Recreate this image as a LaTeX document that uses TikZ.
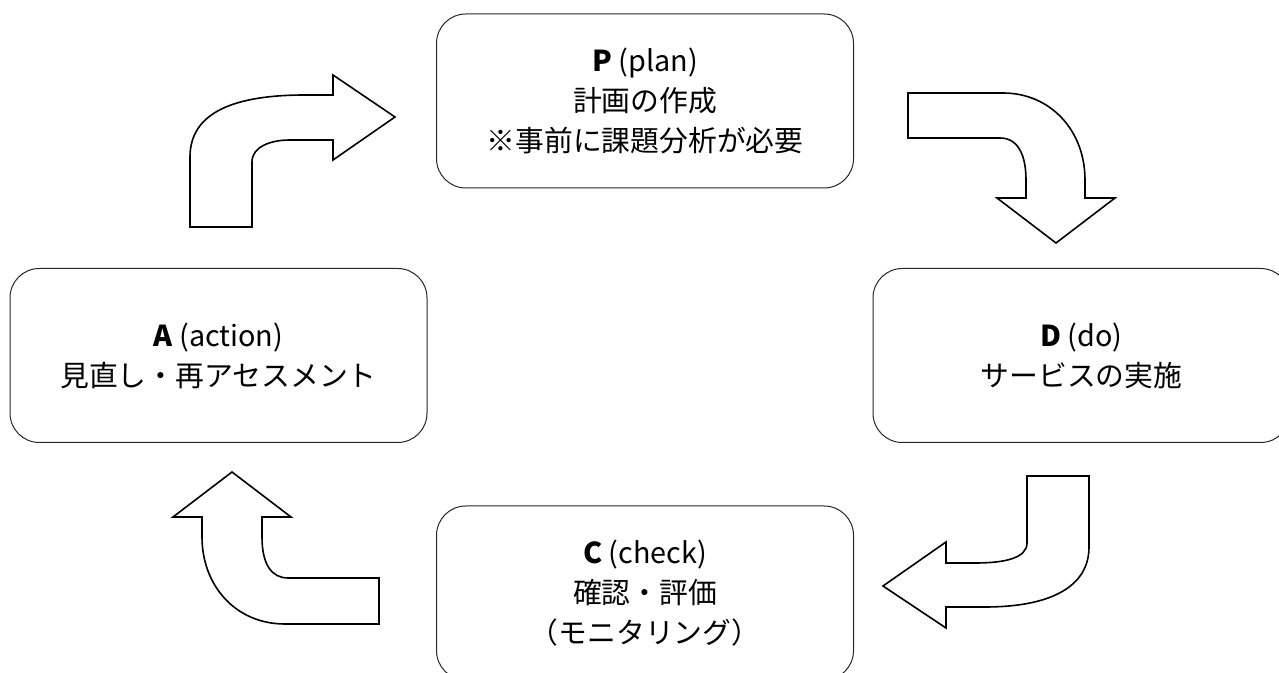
\documentclass[tikz,border=0pt]{standalone}
\usepackage{fontspec}
\setmainfont{Noto Sans CJK JP}
\begin{document}
\begin{tikzpicture}[x=0.75pt,y=-0.75pt,
  stage/.style={draw=black!85,line width=0.75pt,rounded corners=22pt,minimum width=312.75pt,minimum height=130.5pt,align=center,font=\fontsize{21.6}{30}\selectfont},
  bigarrow/.style={draw=black,fill=white,line width=1.2pt,line join=miter}]
\useasboundingbox (0,0) rectangle (1279,673);
\node [stage] (P) at (645,101) {\textbf{P} (plan)\\計画の作成\\※事前に課題分析が必要};
\node [stage] (A) at (218.5,355.5) {\textbf{A} (action)\\見直し・再アセスメント};
\node [stage] (D) at (1081.5,355.5) {\textbf{D} (do)\\サービスの実施};
\node [stage] (C) at (645,593) {\textbf{C} (check)\\確認・評価\\（モニタリング）};
\draw [bigarrow] (190,227) -- (190,157) .. controls (190,112) and (235,95) .. (305,95) -- (333,95) -- (333,75) -- (395,117) -- (333,160) -- (333,140) -- (290,140) .. controls (270,140) and (252,147) .. (252,162) -- (252,227) -- cycle;
\draw [bigarrow] (908,93) -- (1003,93) .. controls (1050,93) and (1085,130) .. (1085,180) -- (1085,198) -- (1115,198) -- (1056,243) -- (997,198) -- (1026,198) -- (1026,180) .. controls (1026,155) and (1018,138) .. (1000,138) -- (908,138) -- cycle;
\draw [bigarrow] (1089,476) -- (1089,547) .. controls (1089,587) and (1050,607) .. (985,607) -- (946,607) -- (946,628) -- (883,586) -- (946,542) -- (946,563) -- (975,563) .. controls (1005,563) and (1027,558) .. (1027,543) -- (1027,476) -- cycle;
\draw [bigarrow] (379,578) -- (288,578) .. controls (272,578) and (262,565) .. (262,537) -- (262,517) -- (291,517) -- (232,472) -- (173,517) -- (202,517) -- (202,537) .. controls (202,585) and (235,624) .. (285,624) -- (379,624) -- cycle;
\end{tikzpicture}
\end{document}
